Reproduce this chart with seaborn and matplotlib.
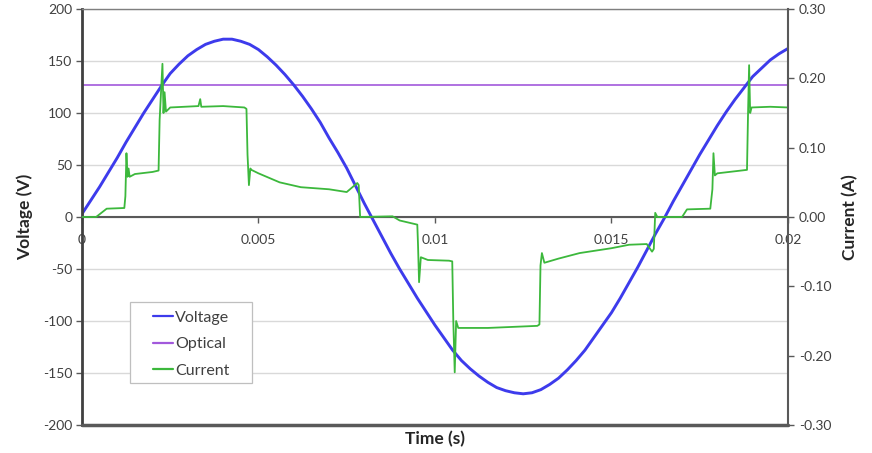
import matplotlib
matplotlib.use('Agg')
import matplotlib.pyplot as plt
from matplotlib.patches import Rectangle
import seaborn as sns

time_v = [0.00000, 0.00025, 0.00050, 0.00075, 0.00100, 0.00125, 0.00150, 0.00175, 0.00200, 0.00225,
          0.00250, 0.00275, 0.00300, 0.00325, 0.00350, 0.00375, 0.00400, 0.00425, 0.00450, 0.00475,
          0.00500, 0.00525, 0.00550, 0.00575, 0.00600, 0.00625, 0.00650, 0.00675, 0.00700, 0.00725,
          0.00750, 0.00775, 0.00800, 0.00825, 0.00850, 0.00875, 0.00900, 0.00925, 0.00950, 0.00975,
          0.01000, 0.01025, 0.01050, 0.01075, 0.01100, 0.01125, 0.01150, 0.01175, 0.01200, 0.01225,
          0.01250, 0.01275, 0.01300, 0.01325, 0.01350, 0.01375, 0.01400, 0.01425, 0.01450, 0.01475,
          0.01500, 0.01525, 0.01550, 0.01575, 0.01600, 0.01625, 0.01650, 0.01675, 0.01700, 0.01725,
          0.01750, 0.01775, 0.01800, 0.01825, 0.01850, 0.01875, 0.01900, 0.01925, 0.01950, 0.01975,
          0.02000]
voltage = [3, 16, 29, 43, 57, 72, 86, 100, 113, 126,
           138, 147, 155, 161, 166, 169, 171, 171, 169, 166,
           161, 154, 146, 137, 127, 116, 104, 91, 76, 62,
           47, 30, 13, -3, -19, -35, -50, -64, -78, -91,
           -104, -116, -128, -138, -146, -153, -159, -164, -167, -169,
           -170, -169, -166, -161, -155, -147, -138, -128, -116, -104,
           -92, -78, -63, -48, -32, -16, -1, 15, 30, 45,
           60, 74, 88, 101, 113, 124, 135, 143, 151, 157,
           162]

# optical level - flat over the whole window
time_opt = [0.0, 0.02]
optical = [127, 127]

# current trace (A), step points incl. the switching spikes
time_i = [0.0, 0.0004, 0.0007, 0.0012, 0.00123, 0.00126, 0.00129, 0.00132, 0.00135, 0.0015,
          0.0020, 0.00217, 0.00220, 0.00228, 0.00231, 0.00234, 0.00238, 0.0025, 0.0033, 0.00335,
          0.00338, 0.0040, 0.0046, 0.00466, 0.00469, 0.00473, 0.00477, 0.0048, 0.0050, 0.0056,
          0.0062, 0.0070, 0.0075, 0.0078, 0.00784, 0.00788, 0.0088, 0.0090, 0.0095, 0.00952,
          0.00955, 0.0096, 0.0098, 0.0104, 0.01049, 0.01052, 0.01056, 0.0106, 0.01066, 0.0115,
          0.01290, 0.01296, 0.01299, 0.01303, 0.0131, 0.0135, 0.0141, 0.0150, 0.0155, 0.0160,
          0.01615, 0.01620, 0.01624, 0.0163, 0.0170, 0.01714, 0.0178, 0.01786, 0.01789, 0.01793,
          0.0180, 0.01884, 0.01887, 0.01890, 0.01893, 0.01897, 0.0195, 0.0200]
current = [0.000, 0.000, 0.012, 0.013, 0.030, 0.092, 0.058, 0.070, 0.058, 0.062,
           0.065, 0.067, 0.140, 0.221, 0.150, 0.180, 0.152, 0.158, 0.160, 0.170,
           0.159, 0.160, 0.158, 0.156, 0.090, 0.046, 0.070, 0.068, 0.063, 0.050,
           0.043, 0.040, 0.036, 0.049, 0.046, 0.000, 0.001, -0.005, -0.011, -0.040,
           -0.094, -0.058, -0.062, -0.063, -0.064, -0.150, -0.224, -0.150, -0.160, -0.160,
           -0.157, -0.155, -0.070, -0.052, -0.066, -0.060, -0.052, -0.045, -0.040, -0.039,
           -0.050, -0.046, 0.006, 0.000, 0.000, 0.011, 0.012, 0.040, 0.092, 0.060,
           0.063, 0.068, 0.150, 0.219, 0.150, 0.158, 0.159, 0.158]

x_ticks = [0, 0.005, 0.01, 0.015, 0.02]
x_labels = ['0', '0.005', '0.01', '0.015', '0.02']
v_ticks = [-200, -150, -100, -50, 0, 50, 100, 150, 200]
i_ticks = [-0.3, -0.2, -0.1, 0.0, 0.1, 0.2, 0.3]

sns.set_style('white')
plt.rcParams['font.family'] = ['Lato', 'DejaVu Sans']
plt.rcParams['axes.unicode_minus'] = False

dark = '#595959'
txt = '#404040'

fig = plt.figure(figsize=(8.72, 4.53), dpi=100)
ax = fig.add_axes([0.0940, 0.0618, 0.8096, 0.9183])
ax2 = ax.twinx()

sns.lineplot(x=time_opt, y=optical, ax=ax, color='#a259dc', lw=1.2, label='Optical',
             estimator=None, sort=False, legend=False)
sns.lineplot(x=time_v, y=voltage, ax=ax, color='#3d3bec', lw=2.1, label='Voltage',
             estimator=None, sort=False, legend=False)
sns.lineplot(x=time_i, y=current, ax=ax2, color='#3cb83c', lw=1.3, label='Current',
             estimator=None, sort=False, legend=False)

# left axis
ax.set_xlim(0, 0.02)
ax.set_ylim(-200, 200)
ax.set_yticks(v_ticks)
ax.set_yticklabels([str(v) for v in v_ticks])
ax.yaxis.grid(True, color='#d9d9d9', lw=1)
ax.xaxis.grid(False)
ax.set_xticks(x_ticks)
ax.set_xticklabels(x_labels)
ax.spines['bottom'].set_position(('data', 0))
ax.spines['bottom'].set_color(dark)
ax.spines['bottom'].set_linewidth(1.5)
ax.spines['left'].set_color('#404040')
ax.spines['left'].set_linewidth(2)
ax.spines['top'].set_color('#7f7f7f')
ax.spines['top'].set_linewidth(1)
ax.spines['right'].set_visible(False)
ax.axhline(-200, color=dark, lw=2.5, clip_on=False, zorder=5)
ax.tick_params(axis='x', direction='out', length=4, width=1, color=dark, pad=8,
               labelsize=10, labelcolor=txt, bottom=True)
ax.tick_params(axis='y', direction='out', length=4, width=1, color=dark, pad=3,
               labelsize=10, labelcolor=txt, left=True)
ax.set_xlabel('Time (s)', fontsize=12.5, fontweight='bold', color='#262626')
ax.xaxis.set_label_coords(0.5, -0.015)
ax.set_ylabel('Voltage (V)', fontsize=12.5, fontweight='bold', color='#262626')
ax.yaxis.set_label_coords(-0.069, 0.5)

# right axis
ax2.set_ylim(-0.3, 0.3)
ax2.set_yticks(i_ticks)
ax2.set_yticklabels([f'{v:.2f}' for v in i_ticks])
ax2.grid(False)
for s in ['top', 'bottom', 'left']:
    ax2.spines[s].set_visible(False)
ax2.spines['right'].set_color(dark)
ax2.spines['right'].set_linewidth(1.5)
ax2.tick_params(axis='y', direction='out', length=4, width=1, color=dark, pad=4,
                labelsize=10, labelcolor=txt, right=True)
ax2.set_ylabel('Current (A)', fontsize=12.5, fontweight='bold', color='#262626')
ax2.yaxis.set_label_coords(1.077, 0.5)

# legend box drawn separately (wider side padding than matplotlib gives)
box = Rectangle((0.068, 0.101), 0.1728, 0.1947, transform=ax2.transAxes,
                facecolor='white', edgecolor='#bfbfbf', lw=0.9, zorder=4)
ax2.add_patch(box)

h1, l1 = ax.get_legend_handles_labels()
h2, l2 = ax2.get_legend_handles_labels()
handles = [h1[1], h1[0], h2[0]]
labels = [l1[1], l1[0], l2[0]]
leg = ax2.legend(handles, labels, loc='upper left', bbox_to_anchor=(0.1006, 0.275),
                 fontsize=11.5, frameon=False, handlelength=1.25, handletextpad=0.15,
                 labelspacing=0.78, borderpad=0, borderaxespad=0)
leg.set_zorder(6)
for t in leg.get_texts():
    t.set_color(txt)
for line in leg.get_lines():
    line.set_linewidth(1.6)

fig.savefig('out.png', dpi=100)
